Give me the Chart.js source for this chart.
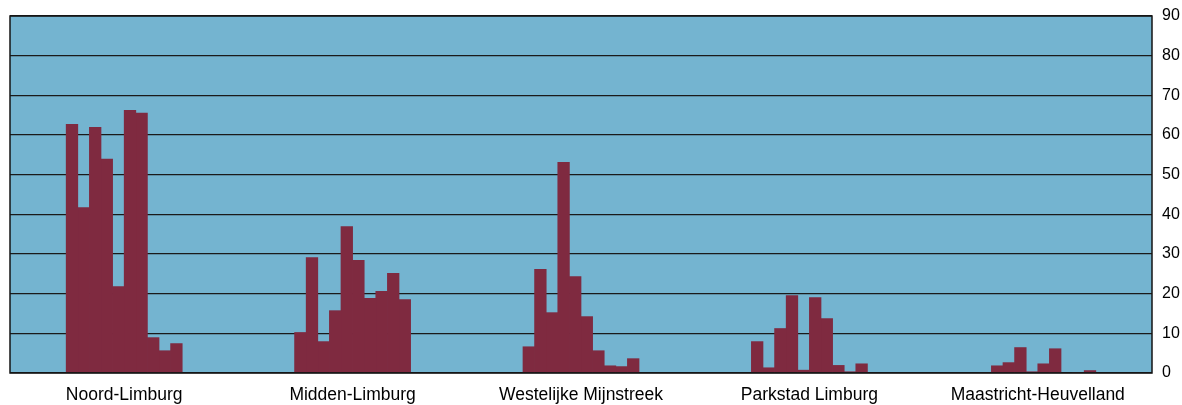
<!DOCTYPE html>
<html>
<head>
<meta charset="utf-8">
<script src="https://cdn.jsdelivr.net/npm/chart.js@4"></script>
<style>
  html, body { margin: 0; padding: 0; background: #ffffff; }
  #wrap { width: 1182px; height: 405px; position: relative; }
</style>
</head>
<body>
<div id="wrap"><canvas id="c" width="1182" height="405"></canvas></div>
<script>
// Categories (regions)
const categories = ['Noord-Limburg', 'Midden-Limburg', 'Westelijke Mijnstreek', 'Parkstad Limburg', 'Maastricht-Heuvelland'];

// Values per region, 10 bars each
const noordLimburg      = [62.8, 41.8, 62.0, 54.0, 21.9, 66.3, 65.6, 9.0, 5.7, 7.5];
const middenLimburg     = [10.3, 29.2, 8.0, 15.8, 37.0, 28.5, 18.9, 20.7, 25.2, 18.6];
const westelijkeMijn    = [6.7, 26.2, 15.3, 53.2, 24.4, 14.3, 5.7, 1.9, 1.7, 3.7];
const parkstadLimburg   = [8.0, 1.4, 11.3, 19.6, 0.8, 19.1, 13.8, 2.0, 0.4, 2.4];
const maastrichtHeuvel  = [0.2, 1.9, 2.7, 6.5, 0.4, 2.4, 6.2, 0.0, 0.1, 0.7];

// Y axis ticks
const yTicks = [0, 10, 20, 30, 40, 50, 60, 70, 80, 90];

const regions = [noordLimburg, middenLimburg, westelijkeMijn, parkstadLimburg, maastrichtHeuvel];
const seriesCount = noordLimburg.length;
const datasets = [];
for (let s = 0; s < seriesCount; s++) {
  datasets.push({
    label: 'Reeks ' + (s + 1),
    data: regions.map(r => r[s]),
    backgroundColor: '#7F2A40',
    borderWidth: 0,
    barPercentage: 1.06,
    categoryPercentage: 0.508
  });
}

const plotFrame = {
  id: 'plotFrame',
  beforeDraw(chart) {
    const a = chart.chartArea, ctx = chart.ctx;
    ctx.save();
    ctx.fillStyle = '#74B4D0';
    ctx.fillRect(a.left, a.top, a.right - a.left, a.bottom - a.top);
    ctx.restore();
  },
  afterDatasetsDraw(chart) {
    const a = chart.chartArea, ctx = chart.ctx;
    ctx.save();
    ctx.strokeStyle = '#151515';
    ctx.lineWidth = 1.5;
    ctx.strokeRect(a.left, a.top, a.right - a.left, a.bottom - a.top);
    ctx.restore();
  }
};

new Chart(document.getElementById('c'), {
  type: 'bar',
  data: { labels: categories, datasets: datasets },
  options: {
    responsive: false,
    animation: false,
    devicePixelRatio: 1,
    layout: { padding: { left: 10, top: 16, right: 0, bottom: 0 } },
    plugins: { legend: { display: false }, tooltip: { enabled: false }, title: { display: false } },
    scales: {
      x: {
        grid: { display: false, drawTicks: false },
        border: { display: false },
        ticks: {
          color: '#000000',
          font: { family: '"Liberation Sans", Arial, sans-serif', size: 17.5 },
          padding: 12,
          maxRotation: 0,
          autoSkip: false
        },
        afterFit(scale) { scale.height = 32; }
      },
      y: {
        position: 'right',
        min: yTicks[0],
        max: yTicks[yTicks.length - 1],
        afterBuildTicks(scale) { scale.ticks = yTicks.map(v => ({ value: v })); },
        grid: { color: '#1a1a1a', lineWidth: 1.3, drawTicks: false },
        border: { display: false },
        ticks: {
          color: '#000000',
          font: { family: '"Liberation Sans", Arial, sans-serif', size: 16, lineHeight: 1.0 },
          padding: 10
        },
        afterFit(scale) { scale.width = 30; scale.paddingTop = 0; scale.paddingBottom = 0; }
      }
    }
  },
  plugins: [plotFrame]
});
</script>
</body>
</html>
